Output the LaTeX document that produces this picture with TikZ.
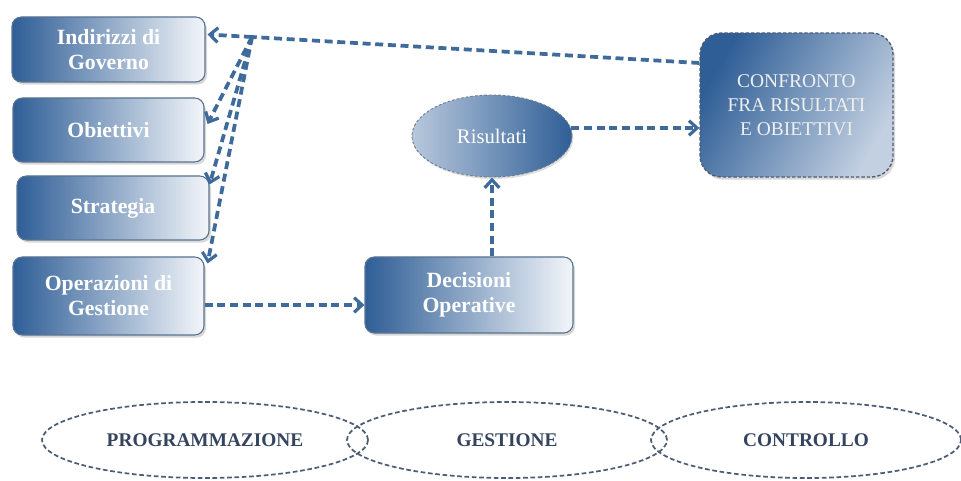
\documentclass[tikz,border=0pt]{standalone}
\usepackage{fontspec}
\setmainfont{Liberation Serif}
\usetikzlibrary{arrows.meta,shadows,shapes.geometric,calc}
\definecolor{boxdark}{HTML}{2F5E96}
\definecolor{boxlight}{HTML}{F3F6FA}
\definecolor{edgec}{HTML}{5A7390}
\definecolor{arrowc}{HTML}{3E6A9C}
\definecolor{labelc}{HTML}{34435E}
\definecolor{phasec}{HTML}{4D5D78}
\tikzset{
  gbox/.style={rounded corners=7pt, draw=edgec, line width=0.8pt,
    left color=boxdark, right color=boxlight,
    drop shadow={opacity=0.3,shadow xshift=1.5pt,shadow yshift=-2pt},
    text=white, font=\fontsize{16.3}{18.8}\selectfont\bfseries,
    align=center, inner sep=0pt},
  flow/.style={draw=arrowc, line width=2.8pt, dash pattern=on 6pt off 3.5pt,
    -{Straight Barb[length=6pt,width=11pt,line width=2.4pt]}},
  flowplain/.style={draw=arrowc, line width=2.8pt, dash pattern=on 6pt off 3.5pt},
  phase/.style={ellipse, draw=phasec, line width=1.3pt, dash pattern=on 3.5pt off 2pt,
    inner sep=0pt, text=labelc, font=\fontsize{14.5}{16}\selectfont\bfseries}
}
\begin{document}
\begin{tikzpicture}[x=0.75pt,y=-0.75pt]
\useasboundingbox[fill=white] (0,0) rectangle (961,481);

% left column boxes
\node[gbox, minimum width=193*0.75pt, minimum height=65*0.75pt] (ind) at (108.5,49.5) {Indirizzi di\\Governo};
\node[gbox, minimum width=191*0.75pt, minimum height=64*0.75pt] (obj) at (108.5,130) {Obiettivi};
\node[gbox, minimum width=192*0.75pt, minimum height=64*0.75pt] (str) at (113,208) {Strategia};
\node[gbox, minimum width=191*0.75pt, minimum height=78*0.75pt] (ope) at (108.5,296) {Operazioni di\\Gestione};

% decisioni
\node[gbox, minimum width=208*0.75pt, minimum height=76*0.75pt] (dec) at (469,295) {Decisioni\\Operative};

% risultati
\node[ellipse, draw=phasec!80, line width=0.7pt, dash pattern=on 2pt off 1.5pt,
  left color=boxlight!70!boxdark, middle color=boxdark!85!boxlight, right color=boxdark,
  drop shadow={opacity=0.25,shadow xshift=1pt,shadow yshift=-1.5pt},
  minimum width=160*0.75pt, minimum height=82*0.75pt, inner sep=0pt,
  text=white, font=\fontsize{15.5}{18}\selectfont] (ris) at (492,136) {Risultati};

% confronto
\node[rounded corners=16pt, draw=phasec, line width=1pt, dash pattern=on 2.5pt off 1.5pt,
  left color=boxdark, right color=boxlight!75!boxdark, shading angle=60,
  drop shadow={opacity=0.3,shadow xshift=1.5pt,shadow yshift=-2pt},
  minimum width=193*0.75pt, minimum height=144*0.75pt, inner sep=0pt, align=center,
  text=white!94!black, font=\fontsize{14.6}{18}\selectfont] (conf) at (796.5,105)
  {CONFRONTO\\FRA RISULTATI\\E OBIETTIVI};

% arrows
\coordinate (J) at (252,37);
\draw[flowplain] ($(conf.west)+(0,-42)$) -- (J);
\draw[flow] (J) -- ($(ind.north east)+(2,18)$);
\draw[flow] (J) -- ($(obj.east)+(3,-6)$);
\draw[flow] (J) -- ($(str.north east)+(0,9)$);
\draw[flow] (J) -- ($(ope.north east)+(3,7)$);
\draw[flow] ($(ope.east)+(0,9)$) -- ($(dec.west)+(0,10)$);
\draw[flow] (ris.south |- dec.north) -- (ris.south);
\coordinate (r1) at ($(ris.east)+(-1,-8)$);
\draw[flow] (r1) -- (r1 -| conf.west);

% phases
\node[phase, minimum width=326*0.75pt, minimum height=76*0.75pt] (prog) at (205,440) {PROGRAMMAZIONE};
\node[phase, minimum width=320*0.75pt, minimum height=76*0.75pt] (gest) at (507,440) {GESTIONE};
\node[phase, minimum width=310*0.75pt, minimum height=76*0.75pt] (ctrl) at (806,440) {CONTROLLO};
\end{tikzpicture}
\end{document}
